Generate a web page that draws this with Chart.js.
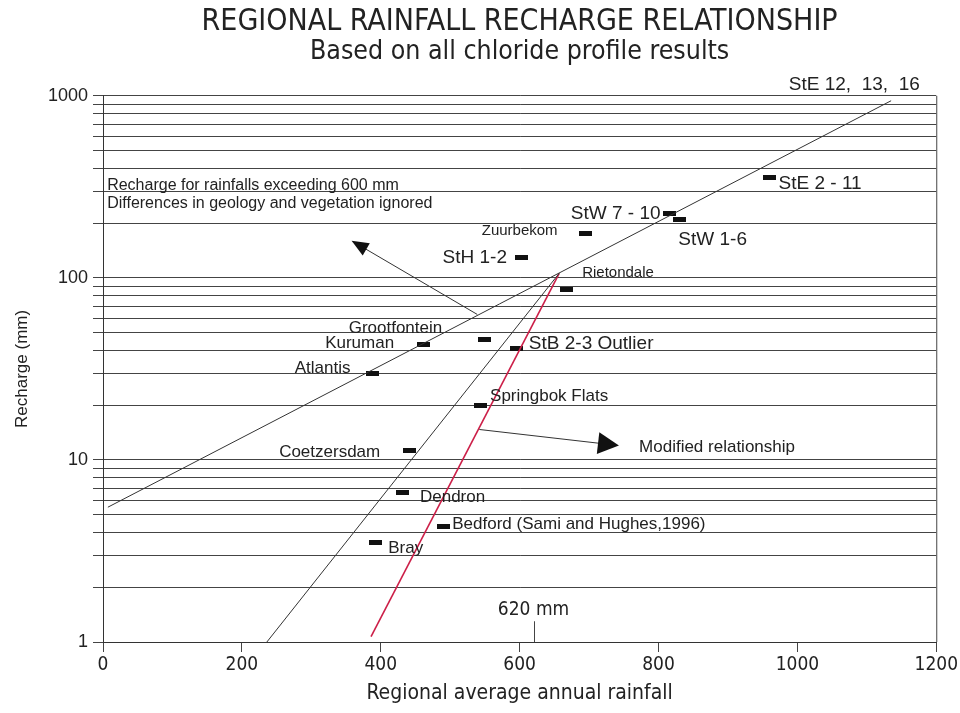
<!DOCTYPE html>
<html lang="en">
<head>
<meta charset="utf-8">
<title>Regional rainfall recharge relationship</title>
<script src="https://cdn.jsdelivr.net/npm/chart.js@4.4.1/dist/chart.umd.min.js"></script>
<style>
  html, body { margin: 0; padding: 0; background: #ffffff; }
  #chartBox { width: 960px; height: 713px; }
</style>
</head>
<body>
<div id="chartBox"><canvas id="rechargeChart" width="960" height="713"></canvas></div>
<script>
// Resultados de los perfiles de cloruro (lluvia media anual mm, recarga mm)
const siteNames = ['StE 2 - 11', 'StW 7 - 10', 'StW 1-6', 'Zuurbekom', 'StH 1-2', 'Rietondale',
  'Grootfontein', 'Kuruman', 'StB 2-3 Outlier', 'Atlantis', 'Springbok Flats', 'Coetzersdam',
  'Dendron', 'Bedford (Sami and Hughes,1996)', 'Bray'];
const siteRainfall = [960, 816, 830, 695, 602, 667, 549, 461, 596, 388, 543, 441, 432, 490, 392];
const siteRecharge = [355, 225, 209, 175, 129, 86, 46, 43, 41, 30, 20, 11.3, 6.6, 4.3, 3.5];

// Rectas de relación (extremos)
const regionalLineX = [7, 1135];
const regionalLineY = [5.5, 940];
const steepLineX = [236, 657];
const steepLineY = [1, 106];
const modifiedLineX = [386, 657];
const modifiedLineY = [1.07, 106];

// Ejes
const xTickValues = [0, 200, 400, 600, 800, 1000, 1200];
const yGridValues = [1, 2, 3, 4, 5, 6, 7, 8, 9, 10, 20, 30, 40, 50, 60, 70, 80, 90,
  100, 200, 300, 400, 500, 600, 700, 800, 900, 1000];
const yTickLabels = [1, 10, 100, 1000];

const narrowFont = "'Liberation Sans Narrow', 'Arial Narrow', 'DejaVu Sans Condensed', sans-serif";
const plainFont = "'Liberation Sans', Arial, sans-serif";

// marcador: barrita negra
const marker = document.createElement('canvas');
marker.width = 13;
marker.height = 5;
const mctx = marker.getContext('2d');
mctx.fillStyle = '#111';
mctx.fillRect(0, 0, 13, 5);

const toPoints = (xs, ys) => xs.map((v, i) => ({ x: v, y: ys[i] }));

// posición de cada etiqueta respecto a su marcador: dx, dy, alineación, tamaño
const siteLabelStyle = [
  [9, 6, 'left', 19], [-9, 0, 'right', 19], [-1, 20, 'left', 19], [-28, -3, 'right', 15],
  [-14, 0, 'right', 19], [16, -17, 'left', 15], [-42, -11, 'right', 17], [-29, -1, 'right', 17],
  [12, -5, 'left', 19], [-22, -5, 'right', 17], [10, -9, 'left', 17], [-29, 2, 'right', 17],
  [17, 5, 'left', 17], [9, -2, 'left', 17], [13, 5, 'left', 17]
];

// textos sueltos y flechas, en unidades de los ejes
const freeNotes = [
  { text: 'StE 12,  13,  16', x: 1082, y: 1150, align: 'center', size: 19, font: plainFont },
  { text: 'Recharge for rainfalls exceeding 600 mm', x: 6, y: 321, align: 'left', size: 16, font: plainFont },
  { text: 'Differences in geology and vegetation ignored', x: 6, y: 256, align: 'left', size: 16, font: plainFont },
  { text: 'Modified relationship', x: 772, y: 11.7, align: 'left', size: 17, font: plainFont },
  { text: '620 mm', x: 620, y: 1.5, align: 'center', size: 19, font: narrowFont }
];
const arrowNotes = [
  { from: [539, 63], to: [358, 160], len: 17, half: 7 },
  { from: [542, 14.7], to: [743, 12.0], len: 21, half: 11 }
];

const notesPlugin = {
  id: 'notes',
  afterDatasetsDraw(chart) {
    const { ctx, chartArea, scales } = chart;
    const x = scales.x, y = scales.y;
    ctx.save();

    // borde derecho del gráfico
    ctx.strokeStyle = '#444';
    ctx.lineWidth = 1;
    ctx.beginPath();
    ctx.moveTo(chartArea.right + 0.5, chartArea.top);
    ctx.lineTo(chartArea.right + 0.5, chartArea.bottom);
    ctx.stroke();

    // línea de 620 mm
    ctx.beginPath();
    ctx.moveTo(Math.round(x.getPixelForValue(620)) + 0.5, y.getPixelForValue(1.3));
    ctx.lineTo(Math.round(x.getPixelForValue(620)) + 0.5, y.getPixelForValue(1));
    ctx.stroke();

    // flechas
    arrowNotes.forEach(a => {
      const x0 = x.getPixelForValue(a.from[0]), y0 = y.getPixelForValue(a.from[1]);
      const x1 = x.getPixelForValue(a.to[0]), y1 = y.getPixelForValue(a.to[1]);
      const ang = Math.atan2(y1 - y0, x1 - x0);
      ctx.strokeStyle = '#333';
      ctx.beginPath();
      ctx.moveTo(x0, y0);
      ctx.lineTo(x1 - Math.cos(ang) * a.len * 0.8, y1 - Math.sin(ang) * a.len * 0.8);
      ctx.stroke();
      const bx = x1 - Math.cos(ang) * a.len, by = y1 - Math.sin(ang) * a.len;
      ctx.fillStyle = '#111';
      ctx.beginPath();
      ctx.moveTo(x1, y1);
      ctx.lineTo(bx + Math.sin(ang) * a.half, by - Math.cos(ang) * a.half);
      ctx.lineTo(bx - Math.sin(ang) * a.half, by + Math.cos(ang) * a.half);
      ctx.closePath();
      ctx.fill();
    });

    // etiquetas de los sitios
    ctx.fillStyle = '#222';
    ctx.textBaseline = 'middle';
    siteNames.forEach((name, i) => {
      const [dx, dy, align, size] = siteLabelStyle[i];
      ctx.font = size + 'px ' + plainFont;
      ctx.textAlign = align;
      ctx.fillText(name, x.getPixelForValue(siteRainfall[i]) + dx, y.getPixelForValue(siteRecharge[i]) + dy);
    });

    freeNotes.forEach(n => {
      ctx.font = n.size + 'px ' + n.font;
      ctx.textAlign = n.align;
      ctx.fillText(n.text, x.getPixelForValue(n.x), y.getPixelForValue(n.y));
    });
    ctx.restore();
  }
};

const ctx = document.getElementById('rechargeChart').getContext('2d');
const rechargeChart = new Chart(ctx, {
  type: 'scatter',
  data: {
    datasets: [
      {
        label: 'Regional relationship',
        data: toPoints(regionalLineX, regionalLineY),
        showLine: true,
        borderColor: '#333',
        borderWidth: 1,
        pointRadius: 0
      },
      {
        label: 'Steep relationship',
        data: toPoints(steepLineX, steepLineY),
        showLine: true,
        borderColor: '#333',
        borderWidth: 1,
        pointRadius: 0
      },
      {
        label: 'Modified relationship',
        data: toPoints(modifiedLineX, modifiedLineY),
        showLine: true,
        borderColor: '#cc1f48',
        borderWidth: 1.6,
        pointRadius: 0
      },
      {
        label: 'Chloride profiles',
        data: toPoints(siteRainfall, siteRecharge),
        pointStyle: marker,
        pointRadius: 6,
        showLine: false
      }
    ]
  },
  options: {
    responsive: false,
    animation: false,
    devicePixelRatio: 1,
    layout: { padding: { left: 0, right: 23, top: 0, bottom: 0 } },
    plugins: {
      legend: { display: false },
      tooltip: { enabled: false },
      title: {
        display: true,
        fullSize: false,
        text: 'REGIONAL RAINFALL RECHARGE RELATIONSHIP',
        color: '#222',
        font: { family: narrowFont, size: 30, weight: 'normal', lineHeight: 1.2 },
        padding: { top: 4, bottom: 0 }
      },
      subtitle: {
        display: true,
        fullSize: false,
        text: 'Based on all chloride profile results',
        color: '#222',
        font: { family: narrowFont, size: 26.5, weight: 'normal', lineHeight: 0.9 },
        padding: { top: 0, bottom: 32 }
      }
    },
    scales: {
      x: {
        type: 'linear',
        min: 0,
        max: 1200,
        afterBuildTicks: scale => { scale.ticks = xTickValues.map(v => ({ value: v })); },
        afterFit: scale => { scale.height = 71; },
        grid: { drawOnChartArea: false, color: '#444', tickLength: 10 },
        border: { color: '#333' },
        ticks: {
          color: '#222',
          font: { family: narrowFont, size: 19 },
          padding: 2,
          maxRotation: 0,
          callback: v => String(v)
        },
        title: {
          display: true,
          text: 'Regional average annual rainfall',
          color: '#222',
          font: { family: narrowFont, size: 21 },
          padding: { top: 0, bottom: 7 }
        }
      },
      y: {
        type: 'logarithmic',
        min: 1,
        max: 1000,
        afterBuildTicks: scale => { scale.ticks = yGridValues.map(v => ({ value: v })); },
        afterFit: scale => { scale.width = 103; },
        grid: { color: '#444', tickLength: 10 },
        border: { color: '#333' },
        ticks: {
          autoSkip: false,
          color: '#222',
          padding: 5,
          font: { family: plainFont, size: 18 },
          callback: v => (yTickLabels.includes(v) ? String(v) : '')
        },
        title: {
          display: true,
          text: 'Recharge (mm)',
          color: '#222',
          font: { family: plainFont, size: 17 },
          padding: { top: 12 }
        }
      }
    }
  },
  plugins: [notesPlugin]
});
</script>
</body>
</html>
